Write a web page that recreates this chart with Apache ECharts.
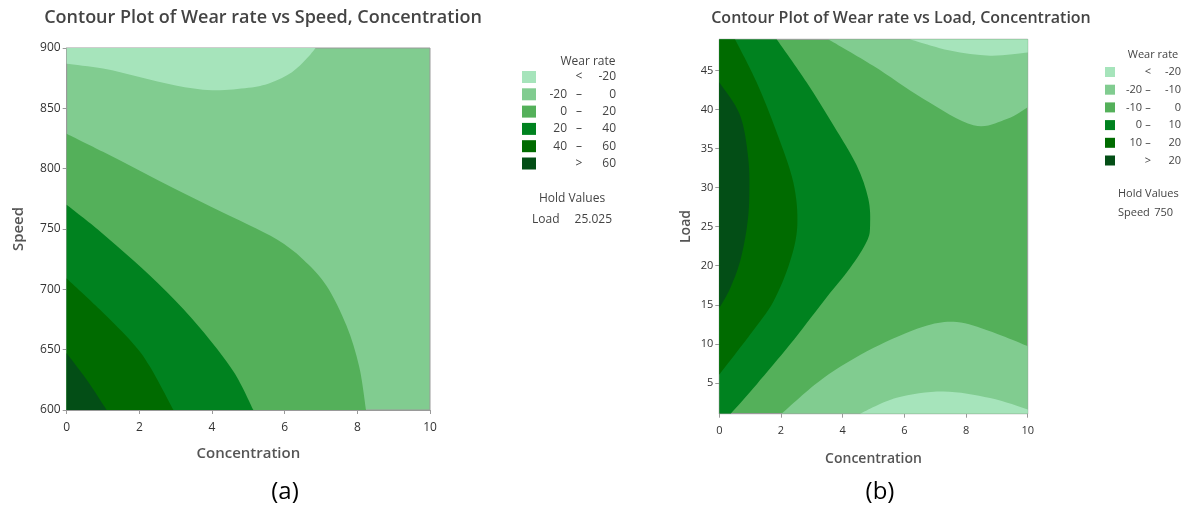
<!DOCTYPE html>
<html>
<head>
<meta charset="utf-8">
<script src="https://cdn.jsdelivr.net/npm/echarts@6/dist/echarts.min.js"></script>
<style>
  html, body { margin: 0; padding: 0; background: #fff; }
  #chart { width: 1189px; height: 510px; }
</style>
</head>
<body>
<div id="chart"></div>
<script>
// axis ranges
var concRange = [0, 10];
var speedRange = [600, 900];
var loadRange = [1.05, 49];
var loadTicks = [5, 10, 15, 20, 25, 30, 35, 40, 45];

// band colours, lightest (lowest wear rate) to darkest
var greens = ['#A6E4BB', '#81CC90', '#54B05A', '#00821F', '#006B00', '#034E16'];

// legend rows: [from, sep, to]
var legendA = [['', '<', '-20'], ['-20', '–', '0'], ['0', '–', '20'], ['20', '–', '40'], ['40', '–', '60'], ['', '>', '60']];
var legendB = [['', '<', '-20'], ['-20', '–', '-10'], ['-10', '–', '0'], ['0', '–', '10'], ['10', '–', '20'], ['', '>', '20']];

// (a) contour boundaries, [concentration, speed]
var aLineM20 = [[0, 887], [1, 883], [2, 876], [3, 869], [4, 865], [5, 867], [5.6, 871], [6.2, 880], [6.6, 891], [6.85, 900]];
var aLine0 = [[0, 829], [1, 814], [2, 798.5], [3, 783], [4, 768], [5, 753.5], [5.8, 741], [6.5, 725], [7.15, 703], [7.7, 670], [8.05, 636], [8.24, 600]];
var aLine20 = [[0, 770], [0.92, 748], [1.83, 724], [2.75, 698], [3.67, 668], [4.59, 632], [5.14, 600]];
var aLine40 = [[0, 709], [0.92, 683], [1.83, 655], [2.29, 636], [2.94, 600]];
var aLine60 = [[0, 647], [0.55, 625], [1.1, 600]];

// (b) contour boundaries, [concentration, load]
var bLine0 = [[1.86, 49], [2.83, 43.5], [3.7, 38], [4.45, 32.9], [4.83, 28.6], [4.89, 25.2], [4.78, 23.1], [4.24, 19.7], [3.37, 15.4], [2.29, 9.9], [1.21, 4.8], [0.37, 1.05]];
var bLine10 = [[0.51, 49], [1.21, 43.5], [1.86, 37.1], [2.4, 30.7], [2.53, 25.2], [2.29, 20.5], [1.75, 15.4], [1.0, 11.2], [0, 6.05]];
var bLine20 = [[0, 43.5], [0.67, 39.3], [0.94, 33.7], [0.97, 28.6], [0.89, 24.8], [0.67, 20.5], [0.35, 17.1], [0, 14.6]];
var bTopM10 = [[3.53, 49], [4.99, 45.6], [6.61, 41.4], [8.24, 38], [9.32, 38.8], [10, 40.3]];
var bTopM20 = [[6.18, 49], [7.48, 47.55], [8.78, 46.9], [10, 47.3]];
var bLowM10 = [[2.02, 1.05], [3.37, 5.6], [4.99, 9.45], [6.61, 12.2], [7.7, 12.8], [8.78, 11.6], [10, 9.7]];
var bLowM20 = [[4.56, 1.05], [5.75, 3.1], [7.26, 3.9], [8.78, 3.06], [10, 1.6]];

// filled regions, painted in order (later on top)
var regionsA = [
  { edge: aLineM20, close: [[0, 900]], color: greens[0] },
  { edge: aLine0, close: [[0, 600]], color: greens[2] },
  { edge: aLine20, close: [[0, 600]], color: greens[3] },
  { edge: aLine40, close: [[0, 600]], color: greens[4] },
  { edge: aLine60, close: [[0, 600]], color: greens[5] }
];
var regionsB = [
  { edge: bLine0, close: [[0, 1.05], [0, 49]], color: greens[3] },
  { edge: bLine10, close: [[0, 49]], color: greens[4] },
  { edge: bLine20, close: [], color: greens[5] },
  { edge: bTopM10, close: [[10, 49]], color: greens[1] },
  { edge: bTopM20, close: [[10, 49]], color: greens[0] },
  { edge: bLowM10, close: [[10, 1.05]], color: greens[1] },
  { edge: bLowM20, close: [[10, 1.05]], color: greens[0] }
];

var font = 'Open Sans';

function regionRenderer(regions) {
  return function (params, api) {
    var r = regions[params.dataIndex];
    var pts = r.edge.map(function (p) { return api.coord(p); });
    var d = 'M' + pts[0][0] + ' ' + pts[0][1];
    // smooth curve through the boundary points
    for (var i = 0; i < pts.length - 1; i++) {
      var p0 = pts[i - 1] || pts[i], p1 = pts[i], p2 = pts[i + 1], p3 = pts[i + 2] || pts[i + 1];
      d += ' C' + (p1[0] + (p2[0] - p0[0]) / 6) + ' ' + (p1[1] + (p2[1] - p0[1]) / 6) +
        ' ' + (p2[0] - (p3[0] - p1[0]) / 6) + ' ' + (p2[1] - (p3[1] - p1[1]) / 6) +
        ' ' + p2[0] + ' ' + p2[1];
    }
    r.close.forEach(function (p) {
      var c = api.coord(p);
      d += ' L' + c[0] + ' ' + c[1];
    });
    d += ' Z';
    return { type: 'path', shape: { pathData: d }, style: { fill: r.color, stroke: null } };
  };
}

function txt(x, y, text, size, align, color, weight) {
  return {
    type: 'text', x: x, y: y, silent: true,
    style: {
      text: text, fontFamily: font, fontSize: size, fill: color || '#444',
      align: align || 'left', verticalAlign: 'middle', fontWeight: weight || 'normal'
    }
  };
}

function legend(rows, o) {
  var g = [txt(o.titleX, o.titleY, 'Wear rate', o.size, 'center')];
  rows.forEach(function (row, i) {
    var y = o.top + i * o.step;
    g.push({
      type: 'rect', silent: true,
      shape: { x: o.swX, y: y, width: o.swW, height: o.swH },
      style: { fill: greens[i] }
    });
    var cy = y + o.swH / 2;
    if (row[0]) g.push(txt(o.c1, cy, row[0], o.size, 'right'));
    g.push(txt(o.c2, cy, row[1], o.size, 'center'));
    g.push(txt(o.c3, cy, row[2], o.size, 'right'));
  });
  return g;
}

var axisCommon = {
  axisLine: { show: true, lineStyle: { color: '#9a9a9a', width: 1 } },
  axisTick: { show: true, inside: false, length: 4, lineStyle: { color: '#9a9a9a' } },
  splitLine: { show: false },
  nameLocation: 'middle',
  nameTextStyle: { fontFamily: font, color: '#555', fontWeight: 600 }
};

var chart = echarts.init(document.getElementById('chart'), null, { renderer: 'canvas' });

var graphics = [
  txt(263, 18, 'Contour Plot of Wear rate vs Speed, Concentration', 18, 'center', '#444', 600),
  txt(901, 18, 'Contour Plot of Wear rate vs Load, Concentration', 16, 'center', '#444', 600),
  txt(285, 492, '(a)', 24, 'center', '#000'),
  txt(880, 492, '(b)', 24, 'center', '#000')
]
  .concat(legend(legendA, { titleX: 588, titleY: 62, size: 12, swX: 522, swW: 14, swH: 12, top: 71, step: 17.3, c1: 567, c2: 579, c3: 616 }))
  .concat([txt(572, 199, 'Hold Values', 12, 'center'), txt(532, 220, 'Load', 12, 'left'), txt(612, 220, '25.025', 12, 'right')])
  .concat(legend(legendB, { titleX: 1153, titleY: 55, size: 11, swX: 1105, swW: 10, swH: 10, top: 67, step: 17.7, c1: 1142, c2: 1148, c3: 1181 }))
  .concat([txt(1118, 194, 'Hold Values', 11, 'left'), txt(1118, 213, 'Speed', 11, 'left'), txt(1173, 213, '750', 11, 'right')]);

var option = {
  animation: false,
  backgroundColor: '#fff',
  grid: [
    { left: 66.7, top: 48, width: 363.3, height: 362, show: true, backgroundColor: greens[1], borderColor: '#9a9a9a', borderWidth: 1 },
    { left: 719.3, top: 39.3, width: 308.4, height: 374.4, show: true, backgroundColor: greens[2], borderColor: '#9a9a9a', borderWidth: 1 }
  ],
  xAxis: [
    Object.assign({}, axisCommon, {
      gridIndex: 0, type: 'value', min: concRange[0], max: concRange[1], interval: 2,
      name: 'Concentration', nameGap: 36,
      nameTextStyle: Object.assign({}, axisCommon.nameTextStyle, { fontSize: 15 }),
      axisLabel: { fontFamily: font, fontSize: 12, color: '#333', margin: 12 }
    }),
    Object.assign({}, axisCommon, {
      gridIndex: 1, type: 'value', min: concRange[0], max: concRange[1], interval: 2,
      name: 'Concentration', nameGap: 38,
      nameTextStyle: Object.assign({}, axisCommon.nameTextStyle, { fontSize: 14 }),
      axisLabel: { fontFamily: font, fontSize: 11, color: '#333', margin: 12 }
    })
  ],
  yAxis: [
    Object.assign({}, axisCommon, {
      gridIndex: 0, type: 'value', min: speedRange[0], max: speedRange[1], interval: 50,
      name: 'Speed', nameGap: 40, nameRotate: 90,
      nameTextStyle: Object.assign({}, axisCommon.nameTextStyle, { fontSize: 15 }),
      axisLabel: { fontFamily: font, fontSize: 12, color: '#333', margin: 6 }
    }),
    Object.assign({}, axisCommon, {
      gridIndex: 1, type: 'value', min: loadRange[0], max: loadRange[1],
      name: 'Load', nameGap: 26, nameRotate: 90,
      nameTextStyle: Object.assign({}, axisCommon.nameTextStyle, { fontSize: 14 }),
      axisTick: { show: true, inside: false, length: 4, lineStyle: { color: '#9a9a9a' }, customValues: loadTicks },
      axisLabel: { fontFamily: font, fontSize: 11, color: '#333', margin: 6, customValues: loadTicks }
    })
  ],
  series: [
    {
      type: 'custom', xAxisIndex: 0, yAxisIndex: 0, clip: true, silent: true,
      renderItem: regionRenderer(regionsA),
      data: regionsA.map(function (r, i) { return [i, 0]; })
    },
    {
      type: 'custom', xAxisIndex: 1, yAxisIndex: 1, clip: true, silent: true,
      renderItem: regionRenderer(regionsB),
      data: regionsB.map(function (r, i) { return [i, 0]; })
    }
  ],
  graphic: graphics
};

chart.setOption(option);
</script>
</body>
</html>
